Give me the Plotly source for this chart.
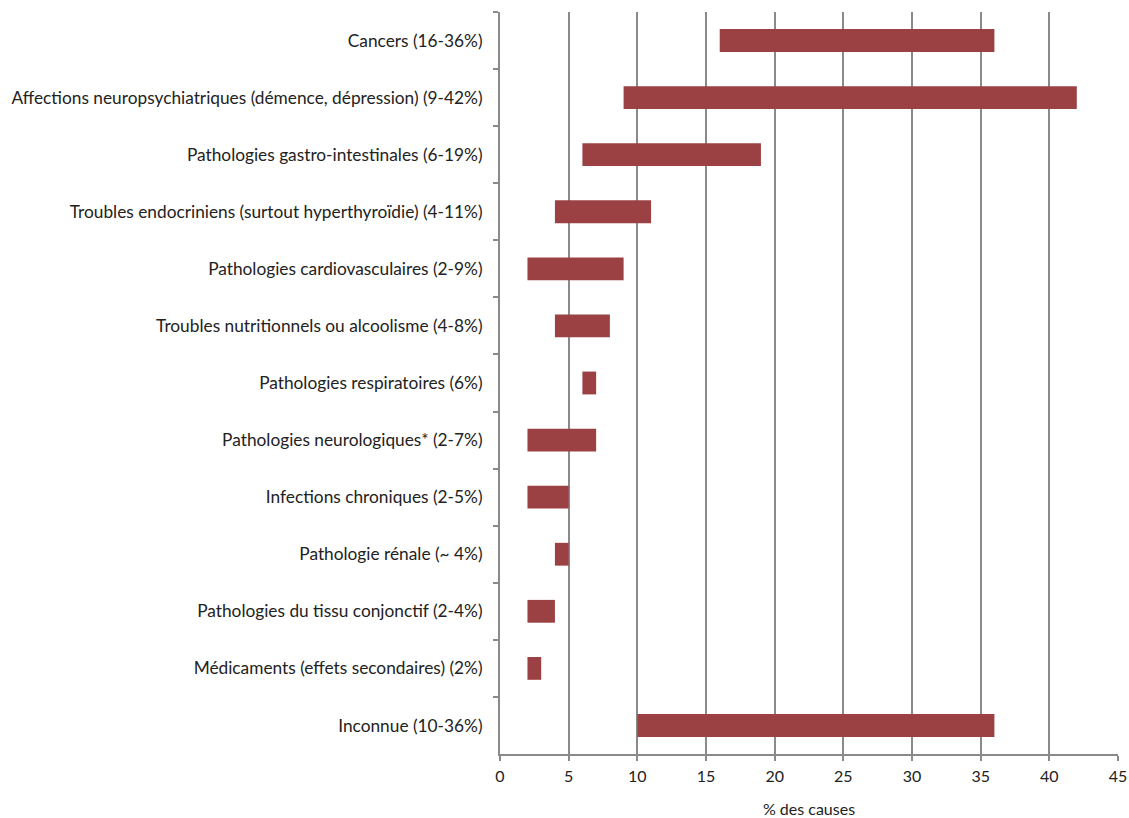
import plotly.graph_objects as go

categories = [
    "Cancers (16-36%)",
    "Affections neuropsychiatriques (démence, dépression) (9-42%)",
    "Pathologies gastro-intestinales (6-19%)",
    "Troubles endocriniens (surtout hyperthyroïdie) (4-11%)",
    "Pathologies cardiovasculaires (2-9%)",
    "Troubles nutritionnels ou alcoolisme (4-8%)",
    "Pathologies respiratoires (6%)",
    "Pathologies neurologiques* (2-7%)",
    "Infections chroniques (2-5%)",
    "Pathologie rénale (~ 4%)",
    "Pathologies du tissu conjonctif (2-4%)",
    "Médicaments (effets secondaires) (2%)",
    "Inconnue (10-36%)",
]
range_start = [16, 9, 6, 4, 2, 4, 6, 2, 2, 4, 2, 2, 10]
range_end = [36, 42, 19, 11, 9, 8, 7, 7, 5, 5, 4, 3, 36]
x_ticks = [0, 5, 10, 15, 20, 25, 30, 35, 40, 45]

widths = [e - s for s, e in zip(range_start, range_end)]

FONT = "Lato, 'Open Sans', sans-serif"
AXIS_GRAY = "#8a8a8a"

fig = go.Figure()
fig.add_trace(go.Bar(
    y=categories,
    x=widths,
    base=range_start,
    orientation="h",
    marker=dict(color="#9b4043", line=dict(width=0)),
    width=0.4,
    hoverinfo="skip",
))

fig.update_layout(
    width=1129,
    height=818,
    margin=dict(l=500, r=11, t=12, b=64, autoexpand=False),
    paper_bgcolor="white",
    plot_bgcolor="white",
    showlegend=False,
    font=dict(family=FONT, size=17, color="#222222"),
    bargap=0.6,
)
fig.update_xaxes(
    range=[0, 45],
    tickvals=x_ticks,
    ticktext=[str(v) for v in x_ticks],
    showgrid=True,
    gridcolor=AXIS_GRAY,
    gridwidth=1.5,
    showline=True,
    linecolor=AXIS_GRAY,
    linewidth=2,
    ticks="outside",
    ticklen=5,
    tickwidth=2,
    tickcolor=AXIS_GRAY,
    zeroline=False,
    automargin=False,
    ticklabelstandoff=2,
    title=dict(text="% des causes", font=dict(size=16), standoff=24),
    tickfont=dict(size=16),
)
fig.update_yaxes(
    categoryorder="array",
    categoryarray=categories,
    autorange="reversed",
    showgrid=False,
    showline=True,
    linecolor=AXIS_GRAY,
    linewidth=2,
    ticks="outside",
    tickson="boundaries",
    ticklen=5,
    tickwidth=2,
    tickcolor=AXIS_GRAY,
    ticklabelstandoff=12,
    automargin=False,
    tickfont=dict(size=17.3),
    zeroline=False,
)

fig.write_html("out.html")
